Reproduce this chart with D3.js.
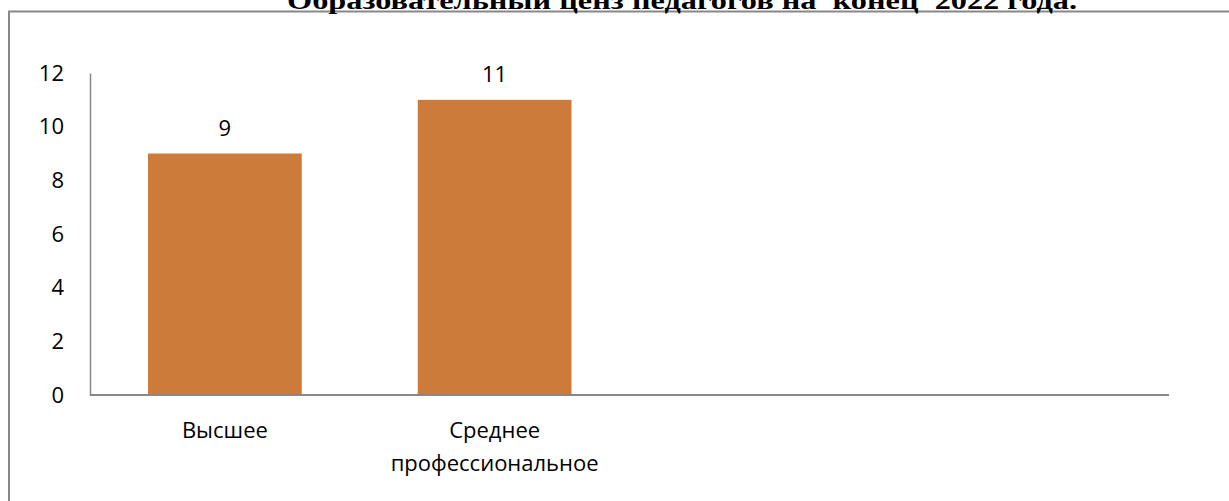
<!DOCTYPE html>
<html>
<head>
<meta charset="utf-8">
<script src="https://cdn.jsdelivr.net/npm/d3@7"></script>
<style>
  html, body { margin: 0; padding: 0; background: #fff; }
  svg { display: block; }
</style>
</head>
<body>
<svg id="chart" width="1229" height="501"></svg>
<script>
// chart data
const title = "Образовательный ценз педагогов на  конец  2022 года.";
const categories = ["Высшее", "Среднее профессиональное", "", ""];
const values = [9, 11, null, null];
const yTicks = [0, 2, 4, 6, 8, 10, 12];

const svg = d3.select("#chart");
const W = 1229, H = 501;
const margin = {top: 73, right: 60, bottom: 106, left: 90};
const plotW = W - margin.left - margin.right;
const plotH = H - margin.top - margin.bottom;

const labelFont = "'Open Sans', 'Noto Sans', sans-serif";
const labelSize = "22px";
const axisColor = "#888888";

// outer frame (top and left edge visible)
svg.append("path")
    .attr("d", `M9,${H + 5} V11.5 H${W + 5}`)
    .attr("fill", "none")
    .attr("stroke", axisColor)
    .attr("stroke-width", 2);

// title, cut at the top like the source
svg.append("text")
    .attr("x", 682)
    .attr("y", 9)
    .attr("text-anchor", "middle")
    .attr("textLength", 790)
    .attr("lengthAdjust", "spacingAndGlyphs")
    .style("white-space", "pre")
    .style("font-family", "'Liberation Serif', 'Times New Roman', serif")
    .style("font-weight", "bold")
    .style("font-size", "26px")
    .text(title);

const g = svg.append("g").attr("transform", `translate(${margin.left},${margin.top})`);

const x = d3.scaleBand()
    .domain(d3.range(categories.length))
    .range([0, plotW])
    .paddingInner(0.43)
    .paddingOuter(0.215);

const y = d3.scaleLinear().domain([0, 12]).range([plotH, 0]);

// y axis
const yAxis = g.append("g")
    .call(d3.axisLeft(y).tickValues(yTicks).tickSize(0).tickPadding(26));
yAxis.select(".domain").attr("stroke", axisColor).attr("stroke-width", 1.5);
yAxis.selectAll("text")
    .style("font-family", labelFont)
    .style("font-size", labelSize)
    .attr("fill", "#000");

const pts = values.map((v, i) => ({i, v})).filter(d => d.v != null);

// bars
g.selectAll("rect.bar")
    .data(pts)
    .enter().append("rect")
    .attr("class", "bar")
    .attr("x", d => x(d.i))
    .attr("width", x.bandwidth())
    .attr("y", d => y(d.v))
    .attr("height", d => plotH - y(d.v))
    .attr("fill", "#cd7b3a");

// value labels
g.selectAll("text.val")
    .data(pts)
    .enter().append("text")
    .attr("class", "val")
    .attr("x", d => x(d.i) + x.bandwidth() / 2)
    .attr("y", d => y(d.v) - 18)
    .attr("text-anchor", "middle")
    .style("font-family", labelFont)
    .style("font-size", labelSize)
    .text(d => d.v);

// x axis line
g.append("line")
    .attr("x1", 0).attr("x2", plotW)
    .attr("y1", plotH).attr("y2", plotH)
    .attr("stroke", axisColor)
    .attr("stroke-width", 2);

// category labels, wrapped onto two lines where needed
categories.forEach((c, i) => {
    if (!c) return;
    const words = c.split(" ");
    const t = g.append("text")
        .attr("text-anchor", "middle")
        .style("font-family", labelFont)
        .style("font-size", labelSize);
    words.forEach((w, k) => {
        t.append("tspan")
            .attr("x", x(i) + x.bandwidth() / 2)
            .attr("y", plotH + 43 + k * 33)
            .text(w);
    });
});
</script>
</body>
</html>
